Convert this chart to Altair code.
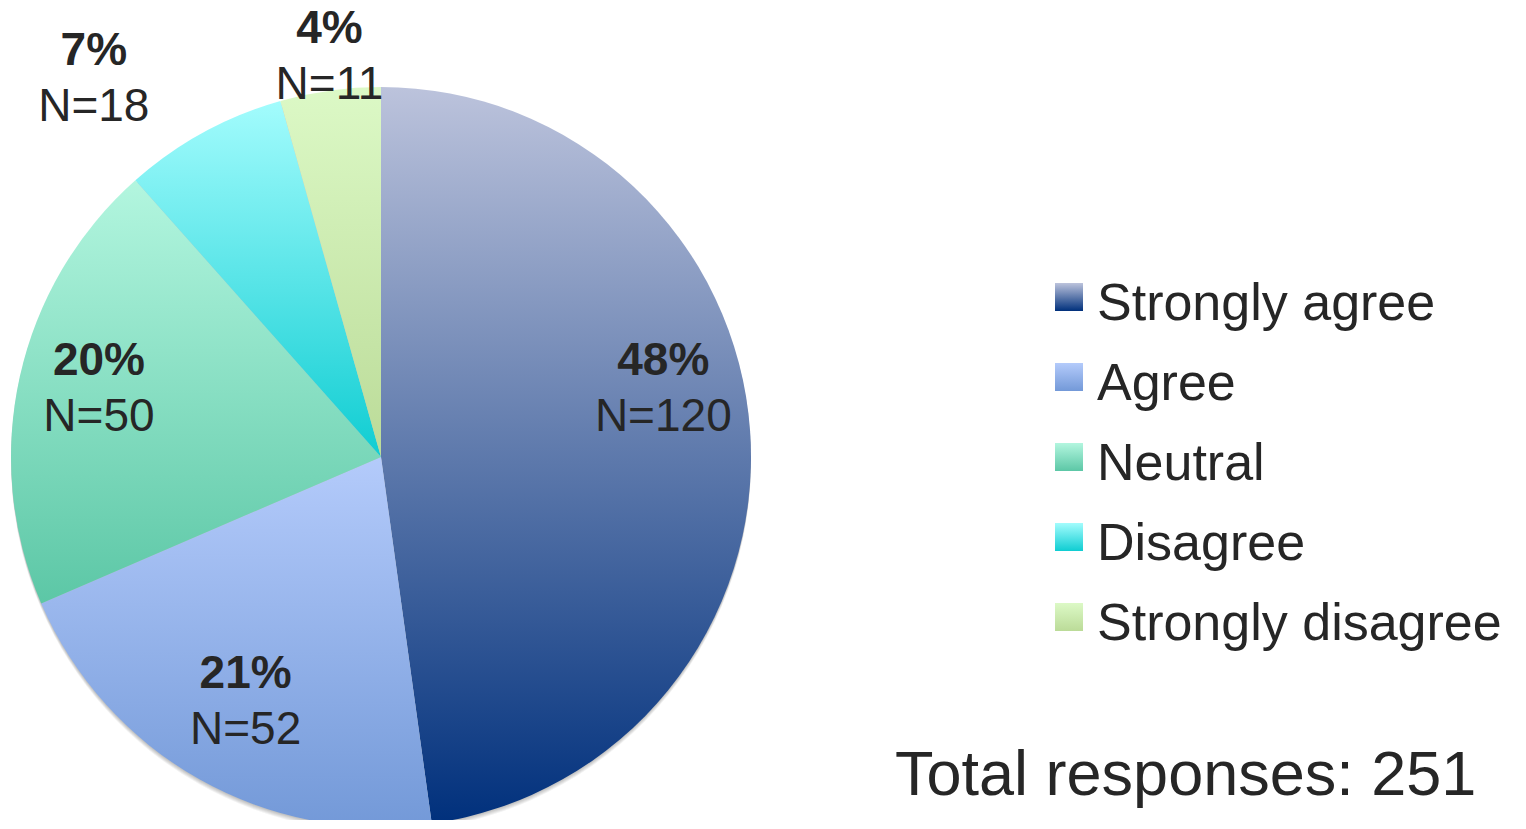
import altair as alt
import pandas as pd

# ---- data ----
categories = ["Strongly agree", "Agree", "Neutral", "Disagree", "Strongly disagree"]
counts = [120, 52, 50, 18, 11]
total_label = "Total responses: "

df = pd.DataFrame({"category": categories, "count": counts, "order": list(range(len(categories)))})
TOTAL = sum(counts)

# ---- styles ----
FONT = "Liberation Sans"
TXT = "#262626"
gradients = {
    "Strongly agree": ("#BCC3DC", "#00307C"),
    "Agree": ("#B4CBFB", "#7399D8"),
    "Neutral": ("#B3F6DF", "#5CC7A6"),
    "Disagree": ("#A3FCFD", "#0FCDD2"),
    "Strongly disagree": ("#DCF9C6", "#BBDB98"),
}
# label placement: (radius, dx, dy) for the centre of the two-line label
label_place = {
    "Strongly agree": (290, -7, -34),
    "Agree": (290, 7, 6),
    "Neutral": (290, 1, 9),
    "Disagree": (390, -100, -22),
    "Strongly disagree": (390, 2, 0),
}
R = 370


def grad(a, b):
    return alt.LinearGradient(
        gradient="linear",
        stops=[alt.GradientStop(offset=0, color=a), alt.GradientStop(offset=1, color=b)],
        x1=0, x2=0, y1=0, y2=1,
    )


theta_scale = alt.Scale(domain=[0, TOTAL])

base = (
    alt.Chart(df)
    .transform_joinaggregate(total="sum(count)")
    .transform_window(cum="sum(count)", sort=[alt.SortField("order")])
    .transform_calculate(
        start="datum.cum - datum.count",
        mid="datum.cum - datum.count / 2",
        pct="round(datum.count / datum.total * 100) + '%'",
        ntext="'N=' + datum.count",
    )
)

layers = []

# soft shadow under the pie
for k in range(1, 6):
    layers.append(
        base.mark_arc(radius=R, yOffset=k, color="black", opacity=0.05)
        .encode(theta=alt.Theta("start:Q", scale=theta_scale), theta2="cum:Q")
    )

# slices
for cat in categories:
    a, b = gradients[cat]
    layers.append(
        base.transform_filter(alt.datum.category == cat)
        .mark_arc(radius=R, color=grad(a, b))
        .encode(theta=alt.Theta("start:Q", scale=theta_scale), theta2="cum:Q")
    )

# labels
for cat in categories:
    r, dx, dy = label_place[cat]
    sub = base.transform_filter(alt.datum.category == cat)
    layers.append(
        sub.mark_text(radius=r, dx=dx, dy=dy - 28, align="center", baseline="alphabetic",
                      font=FONT, fontSize=46, fontWeight="bold", color=TXT)
        .encode(theta=alt.Theta("mid:Q", scale=theta_scale), text="pct:N")
    )
    layers.append(
        sub.mark_text(radius=r, dx=dx, dy=dy + 28, align="center", baseline="alphabetic",
                      font=FONT, fontSize=46, color=TXT)
        .encode(theta=alt.Theta("mid:Q", scale=theta_scale), text="ntext:N")
    )

# legend
ly = alt.Y("category:N", sort=categories,
           scale=alt.Scale(type="point", range=[203, 523], padding=0), axis=None)
for cat in categories:
    a, b = gradients[cat]
    layers.append(
        alt.Chart(df).transform_filter(alt.datum.category == cat)
        .mark_square(size=784, color=grad(a, b), opacity=1)
        .encode(x=alt.value(1051), y=ly)
    )
layers.append(
    alt.Chart(df)
    .mark_text(align="left", baseline="alphabetic", dy=23, font=FONT, fontSize=52, color=TXT)
    .encode(x=alt.value(1079), y=ly, text="category:N")
)

# total
layers.append(
    alt.Chart(df)
    .transform_aggregate(total="sum(count)")
    .transform_calculate(label=f"'{total_label}' + datum.total")
    .mark_text(align="left", baseline="alphabetic", font=FONT, fontSize=63, color=TXT)
    .encode(x=alt.value(877), y=alt.value(701), text="label:N")
)

chart = (
    alt.layer(*layers)
    .properties(
        width=726, height=726,
        padding={"left": 10, "top": 86, "right": 770, "bottom": 0},
        autosize=alt.AutoSizeParams(type="none"),
    )
    .configure_view(stroke=None)
)

chart.save("out.html", embed_options={"renderer": "svg", "actions": False})
